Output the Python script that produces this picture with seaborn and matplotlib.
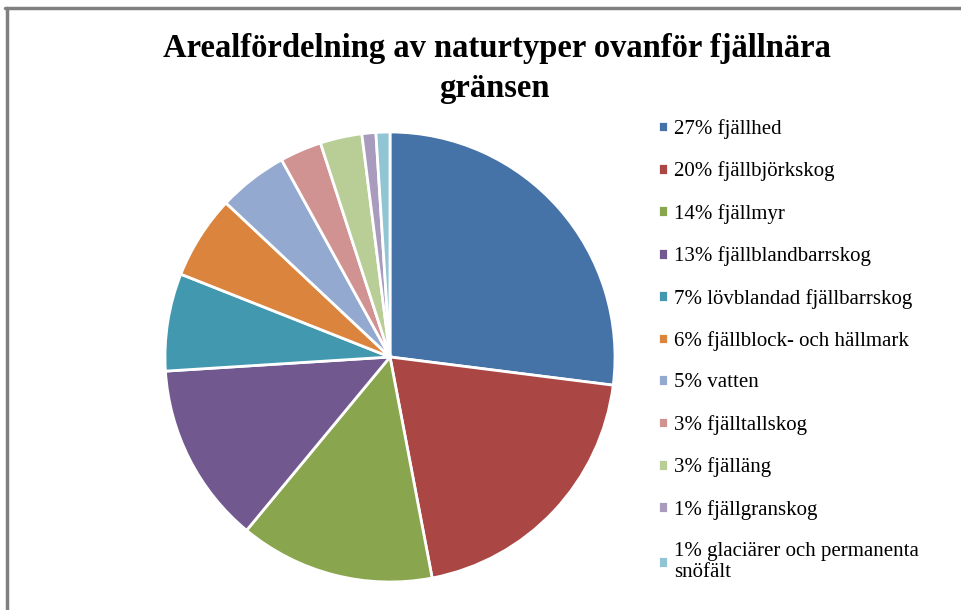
import matplotlib
matplotlib.use("Agg")
import matplotlib.pyplot as plt
import seaborn as sns
from matplotlib.lines import Line2D

# Data
naturtyper = ['fjällhed', 'fjällbjörkskog', 'fjällmyr', 'fjällblandbarrskog',
              'lövblandad fjällbarrskog', 'fjällblock- och hällmark', 'vatten',
              'fjälltallskog', 'fjälläng', 'fjällgranskog',
              'glaciärer och permanenta\nsnöfält']
andel = [27, 20, 14, 13, 7, 6, 5, 3, 3, 1, 1]
farger = ['#4572A7', '#AA4643', '#89A54E', '#71588F', '#4198AF', '#DB843D',
          '#93A9CF', '#D19392', '#B9CD96', '#A99BBD', '#92C5D4']

sns.set_theme(style="white")
plt.rcParams['font.family'] = ['Liberation Serif', 'DejaVu Serif']
plt.rcParams['text.color'] = 'black'

W, H = 962, 610
fig = plt.figure(figsize=(W / 100, H / 100), dpi=100)

# pie centre and radius in pixels (from top-left)
cx, cy, r = 390, 357, 225
ax = fig.add_axes([(cx - r) / W, (H - cy - r) / H, 2 * r / W, 2 * r / H])
wedges, _ = ax.pie(andel, colors=farger, startangle=90, counterclock=False,
                   wedgeprops=dict(edgecolor='white', linewidth=2))
ax.set_xlim(-1, 1)
ax.set_ylim(-1, 1)
ax.set_aspect('equal')

labels = [f"{v}% {n}" for v, n in zip(andel, naturtyper)]
leg = fig.legend(wedges, labels, loc='upper left',
                 bbox_to_anchor=(658 / W, 1 - 119 / H), frameon=False,
                 fontsize=15, labelspacing=1.08, handlelength=0.5,
                 handleheight=0.5, handletextpad=0.28, borderaxespad=0,
                 borderpad=0)
for t in leg.get_texts():
    t.set_linespacing(1.15)
    t.set_color('black')

fig.text(497 / W, 1 - 49 / H, 'Arealfördelning av naturtyper ovanför fjällnära',
         ha='center', va='center', fontsize=23.5, fontweight='bold',
         color='black')
fig.text(494 / W, 1 - 89 / H, 'gränsen', ha='center', va='center',
         fontsize=23.5, fontweight='bold', color='black')

# chart area border (top and left edges visible)
fig.add_artist(Line2D([5 / W, 1], [1 - 8 / H, 1 - 8 / H], color='#808080',
                      linewidth=2.5, transform=fig.transFigure))
fig.add_artist(Line2D([7 / W, 7 / W], [0, 1 - 8 / H], color='#808080',
                      linewidth=2.5, transform=fig.transFigure))

fig.savefig('out.png', dpi=100)
